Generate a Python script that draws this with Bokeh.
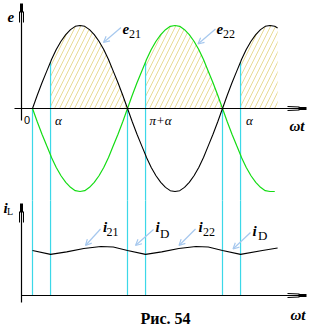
from bokeh.plotting import figure
from bokeh.models import Range1d, Arrow, OpenHead, Label
from bokeh.embed import file_html
from bokeh.resources import INLINE

# ---------------- data (angle in units of pi) ----------------
theta = [0.00, 0.05, 0.10, 0.15, 0.19, 0.20, 0.25, 0.30, 0.35, 0.40, 0.45,
         0.50, 0.55, 0.60, 0.65, 0.70, 0.75, 0.80, 0.85, 0.90, 0.95,
         1.00, 1.05, 1.10, 1.15, 1.19, 1.20, 1.25, 1.30, 1.35, 1.40, 1.45,
         1.50, 1.55, 1.60, 1.65, 1.70, 1.75, 1.80, 1.85, 1.90, 1.95,
         2.00, 2.05, 2.10, 2.15, 2.19, 2.20, 2.25, 2.30, 2.35, 2.40, 2.45,
         2.50, 2.55, 2.58]
e21 = [0.00, 0.16, 0.31, 0.45, 0.56, 0.59, 0.71, 0.81, 0.89, 0.95, 0.99,
       1.00, 0.99, 0.95, 0.89, 0.81, 0.71, 0.59, 0.45, 0.31, 0.16,
       0.00, -0.16, -0.31, -0.45, -0.56, -0.59, -0.71, -0.81, -0.89, -0.95, -0.99,
       -1.00, -0.99, -0.95, -0.89, -0.81, -0.71, -0.59, -0.45, -0.31, -0.16,
       0.00, 0.16, 0.31, 0.45, 0.56, 0.59, 0.71, 0.81, 0.89, 0.95, 0.99,
       1.00, 0.99, 0.97]
e22 = [0.00, -0.16, -0.31, -0.45, -0.56, -0.59, -0.71, -0.81, -0.89, -0.95, -0.99,
       -1.00, -0.99, -0.95, -0.89, -0.81, -0.71, -0.59, -0.45, -0.31, -0.16,
       0.00, 0.16, 0.31, 0.45, 0.56, 0.59, 0.71, 0.81, 0.89, 0.95, 0.99,
       1.00, 0.99, 0.95, 0.89, 0.81, 0.71, 0.59, 0.45, 0.31, 0.16,
       0.00, -0.16, -0.31, -0.45, -0.56, -0.59, -0.71, -0.81, -0.89, -0.95, -0.99,
       -1.00, -1.00]

theta_i = [0.00, 0.19, 0.36, 0.54, 0.72, 0.85, 1.00, 1.19, 1.36, 1.54, 1.72, 1.85,
           2.00, 2.19, 2.42, 2.58]
i_L = [0.92, 0.84, 0.89, 0.96, 1.00, 0.99, 0.92, 0.84, 0.89, 0.96, 1.00, 0.99,
       0.92, 0.84, 0.92, 0.97]

switch_x = [0.00, 0.19, 1.00, 1.19, 2.00, 2.19]
switch_top = [0.00, 0.56, 0.00, 0.56, 0.00, 0.56]

tick_pos = [0.00, 0.19, 1.19, 2.19]
tick_labels = ["0", "α", "π+α", "α"]

# hatched conduction intervals: (start, end, curve name)
hatch_start = [0.19, 1.19, 2.19]
hatch_end = [1.00, 2.00, 2.58]
hatch_curve = ["e21", "e22", "e21"]

# ---------------- layout constants (pixels) ----------------
W, H = 311, 326
X0, PXX = 32, 95        # theta = 0 at px 32, 95 px per pi
E0, PXE = 108, 83       # e = 0 at py 108, 83 px per unit
I0, PXI = 295, 49       # i = 0 at py 295, 49 px per unit


def X(px):
    return (px - X0) / PXX


def YE(py):
    return (E0 - py) / PXE


def YI(py):
    return (I0 - py) / PXI


p = figure(width=W, height=H, x_range=Range1d(X(0), X(W)),
           y_range=Range1d(YE(H), YE(0)),
           output_backend="svg", toolbar_location=None,
           x_axis_type=None, y_axis_type=None, min_border=0)
p.extra_y_ranges = {"i": Range1d(YI(H), YI(0))}
p.outline_line_color = None
p.xgrid.visible = False
p.ygrid.visible = False
p.background_fill_color = "white"
p.border_fill_color = "white"

CYAN = "#3cd8e8"
GREEN = "#14dc14"
HATCH = "#e3d27a"
ARROW = "#a6c8ee"

curves = {"e21": e21, "e22": e22}
for s, e, name in zip(hatch_start, hatch_end, hatch_curve):
    ys = curves[name]
    xs = [t for t in theta[:len(ys)] if s - 1e-9 <= t <= e + 1e-9]
    yv = [v for t, v in zip(theta[:len(ys)], ys) if s - 1e-9 <= t <= e + 1e-9]
    p.varea(x=xs, y1=[0] * len(xs), y2=yv, fill_color=None, fill_alpha=0,
            hatch_pattern="/", hatch_color=HATCH, hatch_scale=10,
            hatch_weight=0.8, hatch_alpha=1)

# switching verticals (top and bottom panel parts)
p.segment(x0=switch_x, y0=switch_top, x1=switch_x, y1=[YE(200)] * len(switch_x),
          line_color=CYAN, line_width=1.2)
p.segment(x0=switch_x, y0=[YI(200)] * len(switch_x), x1=switch_x,
          y1=[0] * len(switch_x), line_color=CYAN, line_width=1.2, y_range_name="i")

# curves
p.line(theta[:len(e22)], e22, line_color=GREEN, line_width=1.2)
p.line(theta[:len(e21)], e21, line_color="black", line_width=1.1)
p.line(theta_i, i_L, line_color="black", line_width=1.1, y_range_name="i")

# axes (drawn by hand, with feathered arrow heads)
p.segment(x0=[X(14)], y0=[0], x1=[X(300)], y1=[0], line_color="black", line_width=1.2)
p.segment(x0=[X(21)], y0=[0], x1=[X(300)], y1=[0], line_color="black",
          line_width=1.2, y_range_name="i")
p.segment(x0=[X(21), X(21)], y0=[YE(120), YE(302)], x1=[X(21), X(21)],
          y1=[YE(8), YE(208)], line_color="black", line_width=1.2)

# arrow heads
for py in (108, 295):
    p.segment(x0=[X(298)], y0=[YE(py)], x1=[X(306)], y1=[YE(py)],
              line_color="black", line_width=3)
    p.segment(x0=[X(287), X(287)], y0=[YE(py - 2), YE(py + 2)],
              x1=[X(299), X(299)], y1=[YE(py - 1.5), YE(py + 1.5)],
              line_color="black", line_width=1)
for py in (3, 203):
    p.segment(x0=[X(21)], y0=[YE(py)], x1=[X(21)], y1=[YE(py + 9)],
              line_color="black", line_width=3)
    p.segment(x0=[X(19), X(23)], y0=[YE(py + 8), YE(py + 8)],
              x1=[X(19), X(23)], y1=[YE(py + 19), YE(py + 19)],
              line_color="black", line_width=1)

# label arrows
for (x0, y0, x1, y1) in [(120.5, 27, 103, 42), (215, 28.5, 197.5, 43.5),
                         (100, 228.5, 85, 245), (153, 229, 135, 245),
                         (195, 228.5, 178.5, 245), (250, 232, 232.5, 248.5)]:
    p.add_layout(Arrow(end=OpenHead(size=6, line_color=ARROW, line_width=1.2),
                       x_start=X(x0), y_start=YE(y0), x_end=X(x1), y_end=YE(y1),
                       line_color=ARROW, line_width=1.2))


def label(px, py, text, size, style="normal", font="Liberation Serif", align="left"):
    p.add_layout(Label(x=X(px), y=YE(py), text=text, text_font=font,
                       text_font_size=f"{size}px", text_font_style=style,
                       text_baseline="alphabetic", text_align=align,
                       text_color="black"))


# top panel texts
label(7, 16, "e", 15, "bold italic")
label(122, 28, "e", 15, "bold italic")
label(128.5, 33, "21", 12)
label(216, 28, "e", 15, "bold italic")
label(222.5, 33, "22", 12)
tick_left = [23.5, 54.5, 149, 245.5]
tick_font = ["Liberation Sans", "Liberation Serif", "Liberation Serif", "Liberation Serif"]
tick_style = ["normal", "italic", "italic", "italic"]
tick_size = [11, 13, 13, 13]
for lx, t, f, st, sz in zip(tick_left, tick_labels, tick_font, tick_style, tick_size):
    label(lx, 119.5, t, sz, st, f)
label(289, 125.5, "ωt", 15, "bold italic")

# bottom panel texts
label(3, 207, "i", 15, "bold italic")
label(6.5, 210.5, "L", 10)
label(102.5, 226, "i", 15, "bold italic")
label(106, 231, "21", 12)
label(155, 226, "i", 15, "bold italic")
label(159.5, 233, "D", 13)
label(198, 226, "i", 15, "bold italic")
label(202.5, 231, "22", 12)
label(252, 230, "i", 15, "bold italic")
label(257.5, 235, "D", 13)
label(165, 318, "Рис. 54", 16, "bold", align="center")
label(290, 314, "ωt", 15, "bold italic")

open("out.html", "w").write(file_html(p, INLINE))
